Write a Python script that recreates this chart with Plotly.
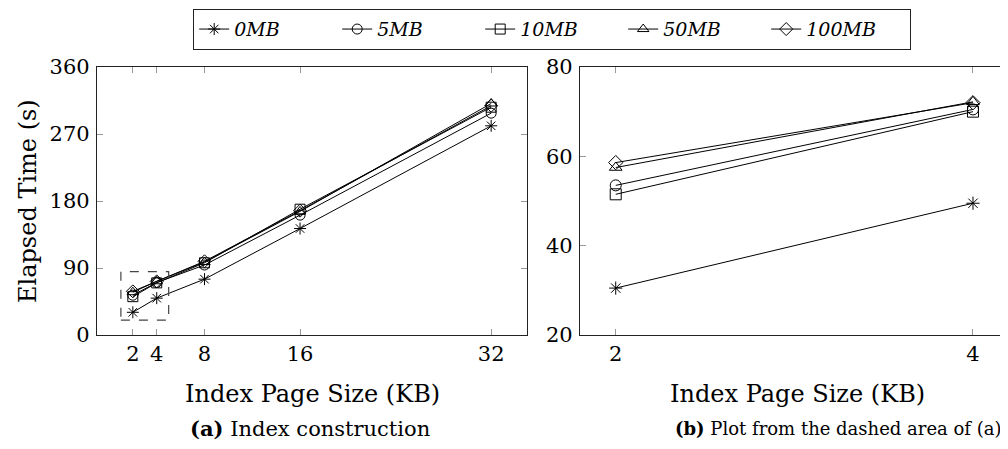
import plotly.graph_objects as go

page_sizes = [2, 4, 8, 16, 32]
series_names = ["0MB", "5MB", "10MB", "50MB", "100MB"]
t_0mb = [30.5, 49.5, 75, 143, 281]
t_5mb = [53.5, 70.5, 94, 161, 298]
t_10mb = [51.5, 70.0, 97, 169, 306]
t_50mb = [57.5, 72.2, 98, 166, 311]
t_100mb = [58.6, 72.0, 99, 167, 308]
zoom_sizes = [2, 4]
symbols = ["asterisk-open", "circle-open", "square-open", "triangle-up-open", "diamond-open"]

all_series = [t_0mb, t_5mb, t_10mb, t_50mb, t_100mb]

# The page body has an 8px default margin, so the figure is placed 8px in.
OFF = 8
W, H = 1008 - OFF, 449 - OFF
def px(x):
    return (x - OFF) / W
def py(y):
    return 1 - (y - OFF) / H

FONT = "DejaVu Serif"
fig = go.Figure()

for name, vals, sym in zip(series_names, all_series, symbols):
    fig.add_trace(go.Scatter(
        x=page_sizes, y=vals, name=name, mode="lines+markers",
        line=dict(color="black", width=1),
        marker=dict(symbol=sym, size=10, color="black", line=dict(color="black", width=1)),
        xaxis="x", yaxis="y", showlegend=True))
    fig.add_trace(go.Scatter(
        x=zoom_sizes, y=vals[:2], name=name, mode="lines+markers",
        line=dict(color="black", width=1),
        marker=dict(symbol=sym, size=11, color="black", line=dict(color="black", width=1)),
        xaxis="x2", yaxis="y2", showlegend=False))

axis_common = dict(showline=True, linecolor="#222", linewidth=1.2, mirror="ticks",
                   ticks="inside", ticklen=6, tickcolor="#999", tickwidth=1,
                   showgrid=False, zeroline=False,
                   tickfont=dict(family=FONT, size=21, color="black"))

fig.update_layout(
    width=W, height=H,
    margin=dict(l=0, r=0, t=0, b=0, autoexpand=False),
    plot_bgcolor="white", paper_bgcolor="white",
    font=dict(family=FONT, color="black"),
    xaxis=dict(domain=[px(97), px(527)], range=[-1, 35], tickvals=page_sizes,
               anchor="y", **axis_common),
    yaxis=dict(domain=[py(335), py(67)], range=[0, 360], tickvals=[0, 90, 180, 270, 360],
               anchor="x", ticklabelstandoff=2, **axis_common),
    xaxis2=dict(domain=[px(580), 1.0], range=[1.8, 4.196], tickvals=zoom_sizes,
                anchor="y2", **axis_common),
    yaxis2=dict(domain=[py(335), py(67)], range=[20, 80], tickvals=[20, 40, 60, 80],
                anchor="x2", ticklabelstandoff=2, **axis_common),
    legend=dict(orientation="h", x=px(552), xanchor="center", y=py(9), yanchor="top",
                bordercolor="#222", borderwidth=1.2, bgcolor="white",
                font=dict(family=FONT, size=19, style="italic"),
                entrywidth=98, entrywidthmode="pixels",
                tracegroupgap=0),
    showlegend=True,
)

fig.add_shape(type="rect", xref="x", yref="y", x0=1, x1=5, y0=20, y1=85,
              line=dict(color="#444", width=1.2, dash="dash"))

ann = []
ann.append(dict(text="Elapsed Time (s)", x=px(28), y=py(201), xref="paper", yref="paper",
                textangle=-90, showarrow=False, font=dict(family=FONT, size=24),
                xanchor="center", yanchor="middle"))
ann.append(dict(text="Index Page Size (KB)", x=px(312), y=py(394), xref="paper", yref="paper",
                showarrow=False, font=dict(family=FONT, size=24), xanchor="center", yanchor="middle"))
ann.append(dict(text="Index Page Size (KB)", x=px(797), y=py(394), xref="paper", yref="paper",
                showarrow=False, font=dict(family=FONT, size=24), xanchor="center", yanchor="middle"))
ann.append(dict(text="<b>(a)</b> Index construction", x=px(310), y=py(428), xref="paper", yref="paper",
                showarrow=False, font=dict(family=FONT, size=21), xanchor="center", yanchor="middle"))
ann.append(dict(text="<b>(b)</b> Plot from the dashed area of (a)", x=px(1004), y=py(428), xref="paper", yref="paper",
                showarrow=False, font=dict(family=FONT, size=18), xanchor="right", yanchor="middle"))
fig.update_layout(annotations=ann)

fig.write_html("out.html")
